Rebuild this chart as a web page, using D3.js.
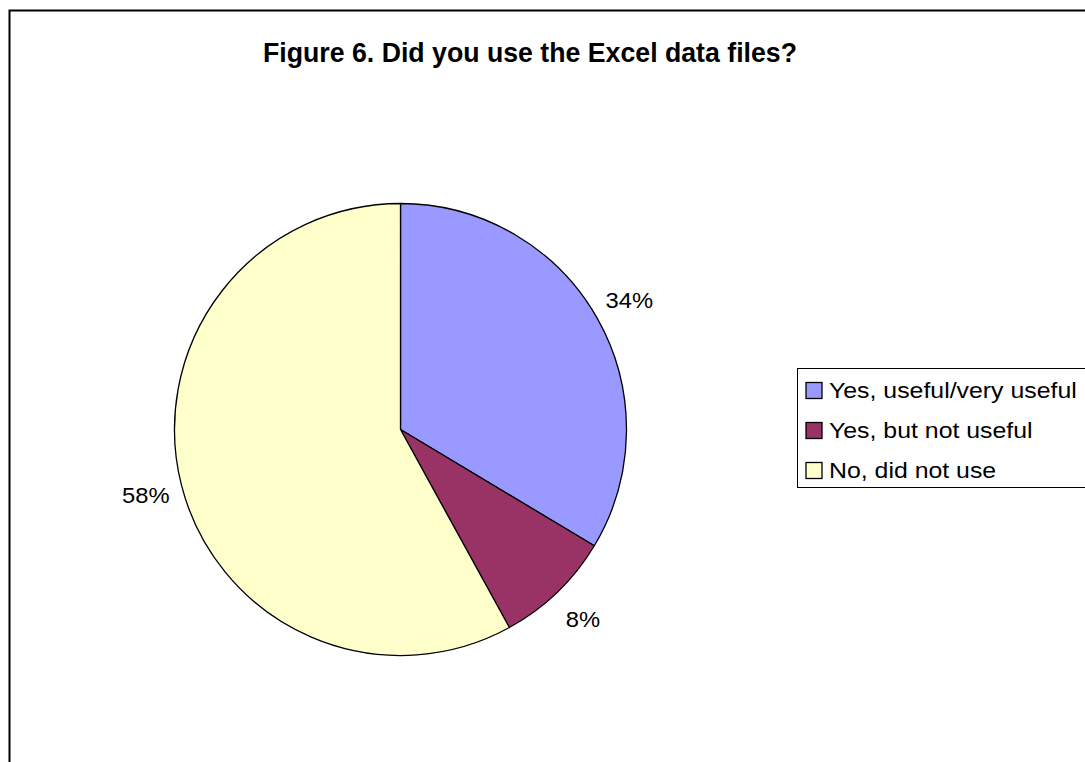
<!DOCTYPE html>
<html>
<head>
<meta charset="utf-8">
<script src="https://cdn.jsdelivr.net/npm/d3@7"></script>
<style>
  html, body { margin: 0; padding: 0; background: #fff; }
  svg { display: block; }
  text { font-family: "Liberation Sans", Arial, sans-serif; }
</style>
</head>
<body>
<svg id="chart" width="1085" height="762"></svg>
<script>
const title = "Figure 6. Did you use the Excel data files?";
const categories = ["Yes, useful/very useful", "Yes, but not useful", "No, did not use"];
const values = [33.6, 8.4, 58.0];
const colors = ["#9999FF", "#993366", "#FFFFCC"];

const svg = d3.select("#chart");
const W = 1085, H = 762;
svg.append("rect").attr("width", W).attr("height", H).attr("fill", "#fff");

// outer chart border (right/bottom edges fall outside the frame)
svg.append("rect")
  .attr("x", 9.5).attr("y", 10.5).attr("width", 1100).attr("height", 800)
  .attr("fill", "none").attr("stroke", "#000").attr("stroke-width", 2);

svg.append("text")
  .attr("x", 530).attr("y", 62)
  .attr("text-anchor", "middle")
  .attr("font-size", 27).attr("font-weight", "bold")
  .attr("textLength", 534).attr("lengthAdjust", "spacingAndGlyphs")
  .text(title);

const cx = 400.5, cy = 429.5, r = 226;
const g = svg.append("g").attr("transform", `translate(${cx},${cy})`);
const pie = d3.pie().sort(null).value(d => d);
const arcs = pie(values);
const arc = d3.arc().innerRadius(0).outerRadius(r);
g.selectAll("path.slice").data(arcs).enter().append("path")
  .attr("class", "slice")
  .attr("d", arc)
  .attr("fill", (d, i) => colors[i])
  .attr("stroke", "#000").attr("stroke-width", 1.3).attr("stroke-linejoin", "round");

const total = d3.sum(values);
const labelArc = d3.arc().innerRadius(263).outerRadius(263);
g.selectAll("text.lbl").data(arcs).enter().append("text")
  .attr("class", "lbl")
  .attr("transform", d => `translate(${labelArc.centroid(d)}) scale(1.08,1)`)
  .attr("text-anchor", "middle").attr("dy", "0.36em")
  .attr("font-size", 22)
  .text(d => Math.round(d.data / total * 100) + "%");

// legend
const lx = 797.5, ly = 368.5;
svg.append("rect").attr("x", lx).attr("y", ly).attr("width", 400).attr("height", 119)
  .attr("fill", "#fff").attr("stroke", "#000").attr("stroke-width", 1);
const lg = svg.selectAll("g.leg").data(categories).enter().append("g")
  .attr("class", "leg")
  .attr("transform", (d, i) => `translate(${lx + 8.5},${382.5 + i * 40})`);
lg.append("rect").attr("width", 16).attr("height", 16)
  .attr("fill", (d, i) => colors[i]).attr("stroke", "#000").attr("stroke-width", 1.3);
lg.append("text")
  .attr("transform", `translate(23,8) scale(1.13,1)`)
  .attr("dy", "0.36em")
  .attr("font-size", 22).text(d => d);
</script>
</body>
</html>
